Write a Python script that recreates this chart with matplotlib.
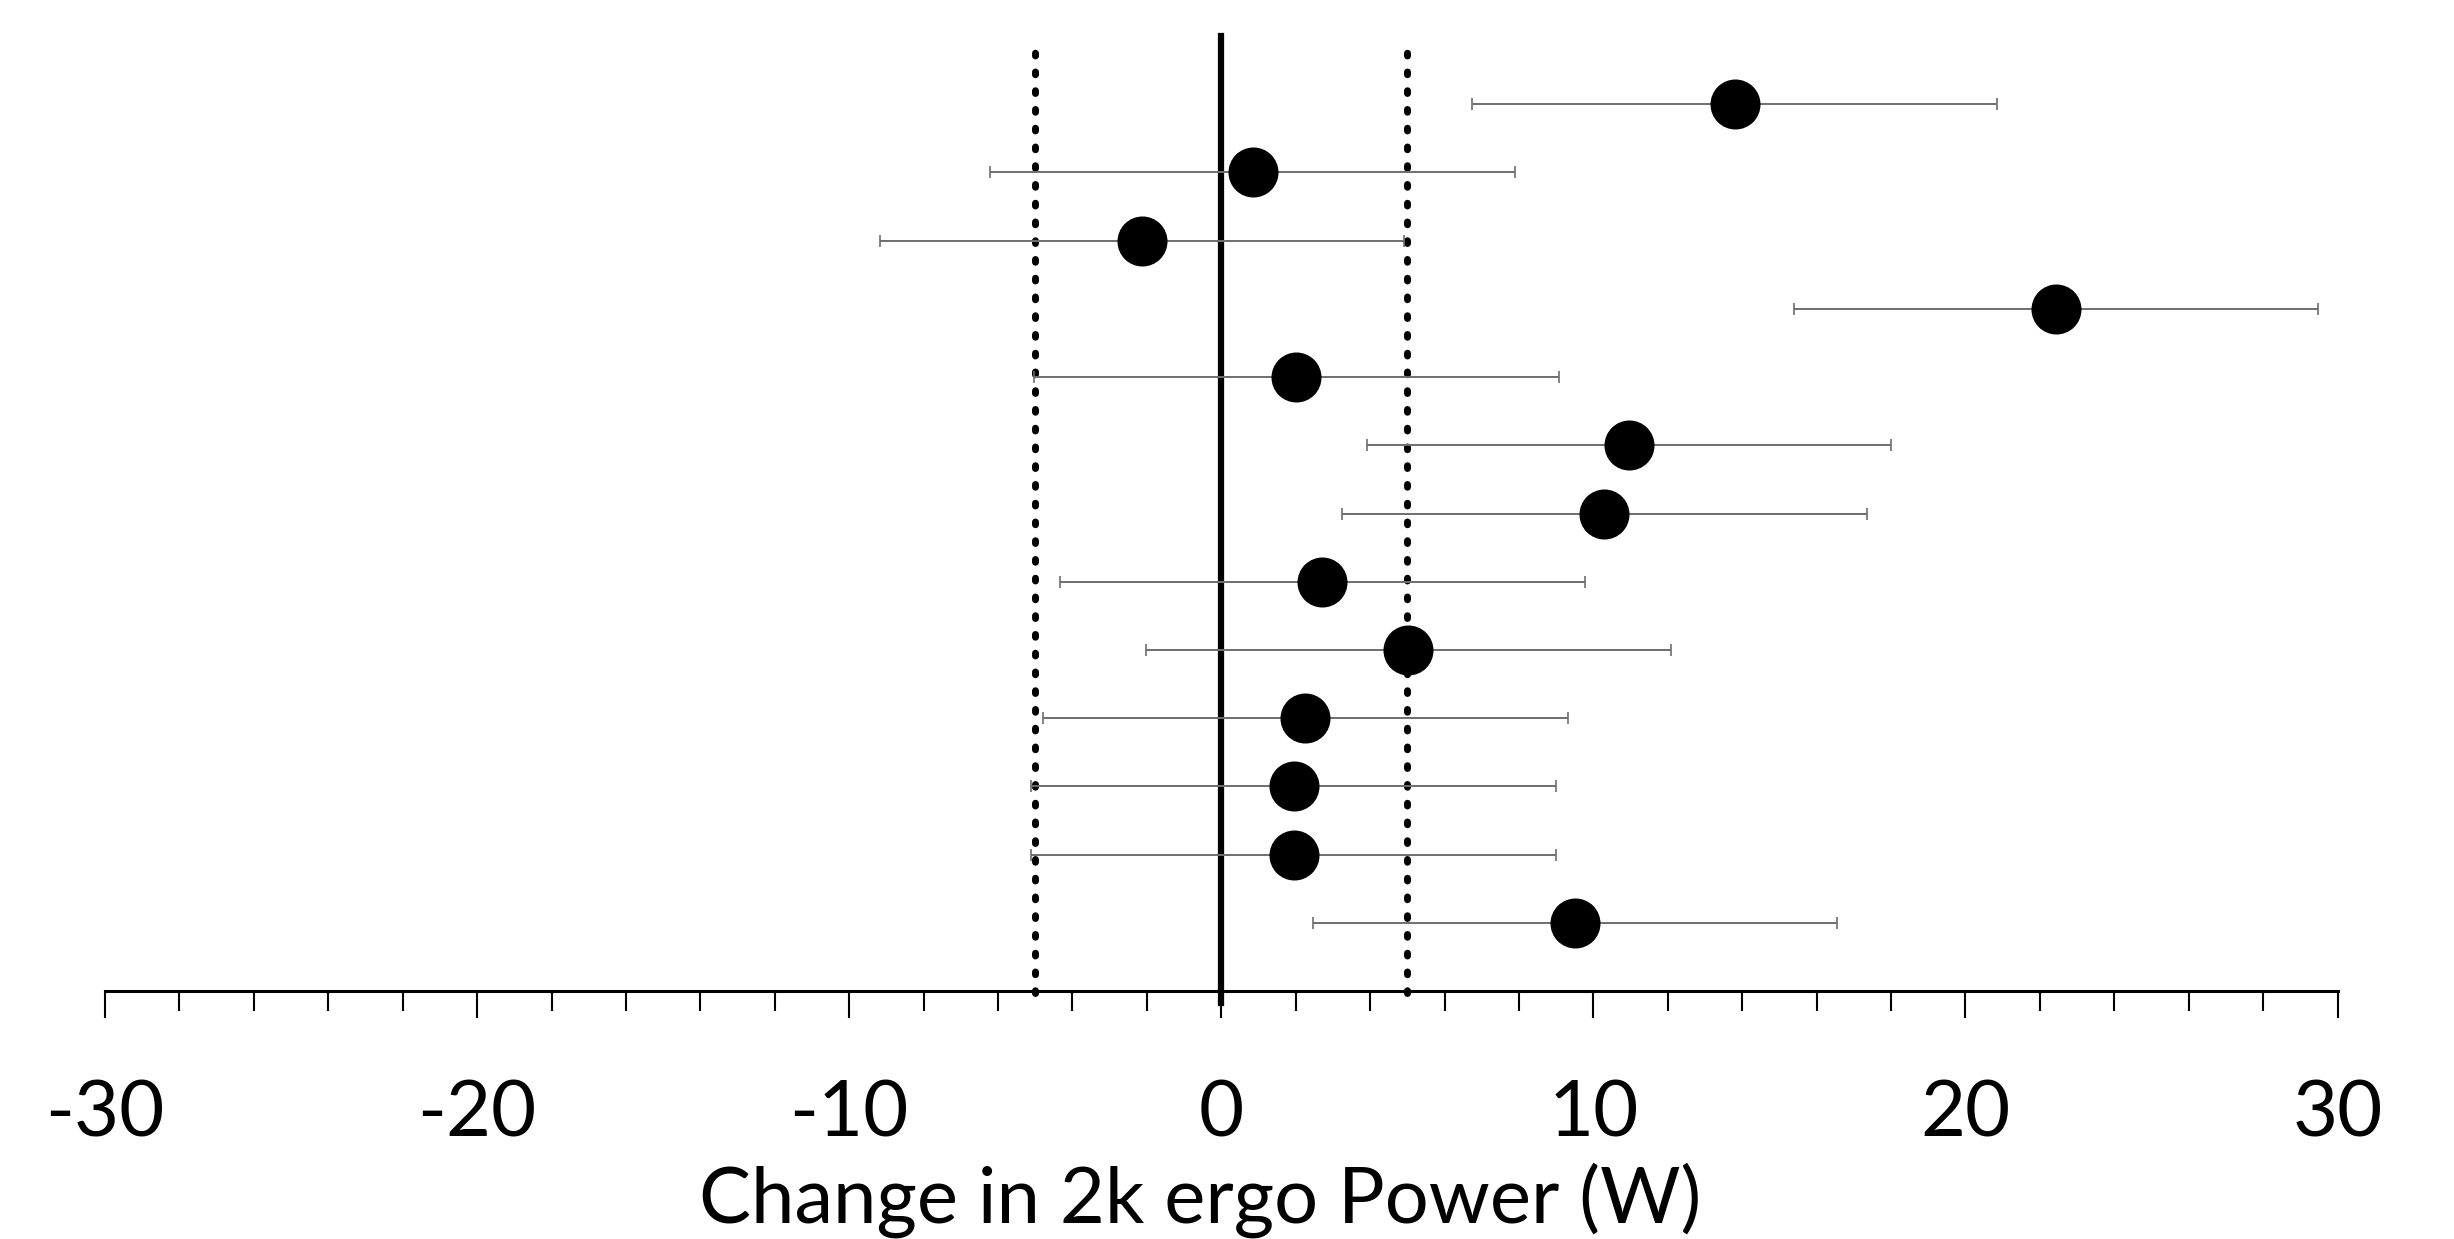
import matplotlib
matplotlib.use("Agg")
import matplotlib.pyplot as plt
from matplotlib.ticker import MultipleLocator

# Data (top row first)
means = [13.8, 0.84, -2.13, 22.43, 2.02, 10.96, 10.30, 2.72, 5.03, 2.26, 1.95, 1.95, 9.51]
errors = [7.05, 7.05, 7.05, 7.05, 7.05, 7.05, 7.05, 7.05, 7.05, 7.05, 7.05, 7.05, 7.05]
rows = list(range(1, len(means) + 1))
ref_lines_dotted = [-5, 5]
ref_line_solid = 0
xticks_major = [-30, -20, -10, 0, 10, 20, 30]
xlabel = "Change in 2k ergo Power (W)"

plt.rcParams['font.family'] = ['Lato', 'DejaVu Sans']

fig = plt.figure(figsize=(24.54, 12.39), dpi=100)
ax = fig.add_axes([105 / 2454, (1239 - 991) / 1239, (2337.5 - 105) / 2454, (991 - 36) / 1239])

ax.errorbar(means, rows, xerr=errors, fmt='o', color='black', ecolor='#6e6e6e',
            elinewidth=1.4, capsize=4, capthick=1.2, markersize=35, zorder=5)

ax.axvline(ref_line_solid, ymin=-0.0126, ymax=1.0, color='black', lw=4.5,
           clip_on=False, zorder=3)
for xv in ref_lines_dotted:
    ax.axvline(xv, ymin=-0.002, ymax=1 - 4 / 955, color='black', lw=5.0,
               linestyle=(0, (0.4, 2.3)), dash_capstyle='round', clip_on=False, zorder=3)

ax.set_xlim(-30, 30)
ax.set_ylim(14, 0)
ax.xaxis.set_major_locator(MultipleLocator(10))
ax.xaxis.set_minor_locator(MultipleLocator(2))
ax.set_xticks(xticks_major)
ax.set_xticklabels([str(v) for v in xticks_major])
ax.set_yticks([])

for s in ['top', 'right', 'left']:
    ax.spines[s].set_visible(False)
ax.spines['bottom'].set_linewidth(2.2)
ax.tick_params(axis='x', which='major', length=19.5, width=1.5, pad=44, labelsize=56)
ax.tick_params(axis='x', which='minor', length=14.5, width=1.5)
ax.set_xlabel(xlabel, fontsize=56, labelpad=8.5)
ax.xaxis.label.set_x(0.4907)

fig.savefig("out.png", dpi=100, facecolor='white')
